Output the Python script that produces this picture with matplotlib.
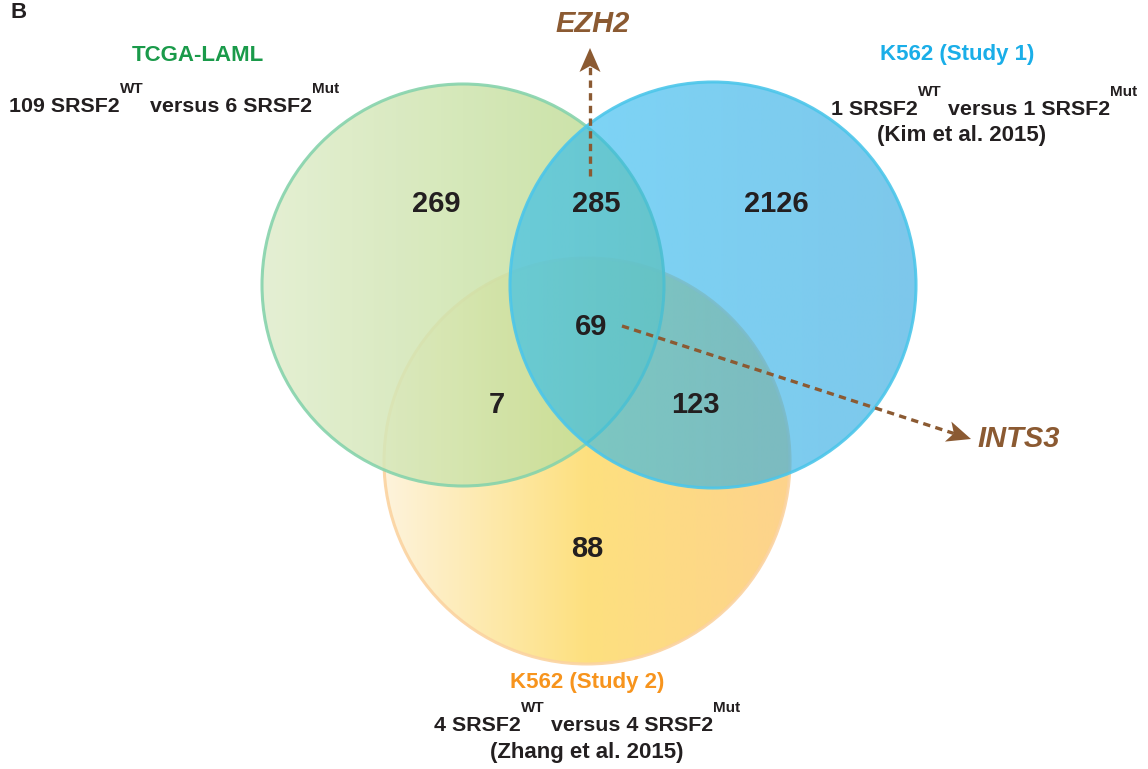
import numpy as np
import matplotlib
matplotlib.use('Agg')
import matplotlib.pyplot as plt
from matplotlib.patches import Circle, Polygon
from matplotlib.colors import LinearSegmentedColormap

plt.rcParams['font.family'] = ['Liberation Sans', 'DejaVu Sans']

# 三个数据集的名称及说明
set_names = ['TCGA-LAML', 'K562 (Study 1)', 'K562 (Study 2)']
set_colors = ['#1a9a4a', '#1aaee8', '#f7941d']
wt_counts = [109, 1, 4]
mut_counts = [6, 1, 4]
refs = ['', '(Kim et al. 2015)', '(Zhang et al. 2015)']

# 各区域基因数: 仅A, A∩B, 仅B, A∩B∩C, A∩C, B∩C, 仅C
region_labels = ['A', 'AB', 'B', 'ABC', 'AC', 'BC', 'C']
region_counts = [269, 285, 2126, 69, 7, 123, 88]

# 标注基因
genes = ['EZH2', 'INTS3']

W, H = 1148, 769
fig = plt.figure(figsize=(W / 100, H / 100), dpi=100, facecolor='white')
ax = fig.add_axes([0, 0, 1, 1])
ax.set_xlim(0, W)
ax.set_ylim(H, 0)
ax.set_aspect('equal')
ax.axis('off')

# 圆的位置 (像素)
circles = {
    'A': (463, 285, 201),
    'B': (713, 285, 203),
    'C': (587, 461, 203),
}

def grad_circle(key, stops, alpha, edge, z):
    cx, cy, r = circles[key]
    cmap = LinearSegmentedColormap.from_list(key, stops)
    grad = np.linspace(0, 1, 256).reshape(1, -1)
    im = ax.imshow(grad, cmap=cmap, extent=(cx - r, cx + r, cy + r, cy - r),
                   alpha=alpha, zorder=z, interpolation='bilinear', aspect='auto')
    clip = Circle((cx, cy), r, transform=ax.transData, facecolor='none', edgecolor='none')
    ax.add_patch(clip)
    im.set_clip_path(clip)
    ax.add_patch(Circle((cx, cy), r, facecolor='none', edgecolor=edge,
                        lw=2.2, alpha=0.9, zorder=z + 0.5))

grad_circle('C', ['#fef3dc', '#fde07f', '#fdd38c'], 1.0, '#fbd3a0', 1)
grad_circle('A', ['#e0edcc', '#bcdb8e'], 0.85, '#86d3ac', 2)
grad_circle('B', ['#26bcf3', '#26a3de'], 0.6, '#4cc6ea', 3)

# 区域数字
num_pos = {
    'A': (436, 204), 'AB': (596, 204), 'B': (776, 204), 'ABC': (591, 327),
    'AC': (497, 405), 'BC': (695, 405), 'C': (587, 549),
}
for lab, n in zip(region_labels, region_counts):
    x, y = num_pos[lab]
    ax.text(x, y, str(n), fontsize=21, fontweight='bold', color='#231f20',
            ha='center', va='center', zorder=10)

renderer = fig.canvas.get_renderer()

def rich_line(cx, y, pieces):
    # pieces: (文本, 字号, 上移像素)
    texts = []
    for s, fs, dy in pieces:
        t = ax.text(0, y - dy, s, fontsize=fs, fontweight='bold', color='#231f20',
                    ha='left', va='baseline', zorder=10)
        texts.append(t)
    widths = [t.get_window_extent(renderer).width for t in texts]
    x = cx - sum(widths) / 2
    for t, w in zip(texts, widths):
        t.set_x(x)
        x += w

def sample_line(cx, y, wt, mut):
    rich_line(cx, y, [(f'{wt} SRSF2', 15.4, 0), ('WT', 11, 19),
                      (f' versus {mut} SRSF2', 15.4, 0), ('Mut', 11, 19)])

ax.text(10, 18, 'B', fontsize=16, fontweight='bold', color='#231f20', va='baseline')

# 左上: TCGA-LAML
ax.text(198, 61, set_names[0], fontsize=16, fontweight='bold', color=set_colors[0],
        ha='center', va='baseline')
sample_line(174, 112, wt_counts[0], mut_counts[0])

# 右上: K562 (Study 1)
ax.text(957, 60, set_names[1], fontsize=16, fontweight='bold', color=set_colors[1],
        ha='center', va='baseline')
sample_line(984, 115, wt_counts[1], mut_counts[1])
ax.text(962, 141, refs[1], fontsize=16, fontweight='bold', color='#231f20',
        ha='center', va='baseline')

# 下方: K562 (Study 2)
ax.text(587, 688, set_names[2], fontsize=16, fontweight='bold', color=set_colors[2],
        ha='center', va='baseline')
sample_line(587, 731, wt_counts[2], mut_counts[2])
ax.text(587, 758, refs[2], fontsize=16, fontweight='bold', color='#231f20',
        ha='center', va='baseline')

# 基因箭头
brown = '#8b5a32'

def dashed_arrow(x0, y0, x1, y1):
    d = np.array([x1 - x0, y1 - y0], float)
    u = d / np.hypot(*d)
    n = np.array([-u[1], u[0]])
    hl, hw = 24, 10.5
    tip = np.array([x1, y1])
    base = tip - u * hl
    notch = tip - u * hl * 0.75
    ax.plot([x0, notch[0]], [y0, notch[1]], color=brown, lw=2.4,
            ls=(0, (2.2, 1.6)), zorder=11)
    head = Polygon([tip, base + n * hw, notch, base - n * hw], closed=True,
                   facecolor=brown, edgecolor='none', zorder=12)
    ax.add_patch(head)

dashed_arrow(590, 176, 590, 48)
ax.text(593, 24, genes[0], fontsize=21, fontweight='bold', style='italic', color=brown,
        ha='center', va='center')

dashed_arrow(622, 326, 971, 439)
ax.text(977, 439, genes[1], fontsize=21, fontweight='bold', style='italic', color=brown,
        ha='left', va='center')

fig.savefig('out.png', dpi=100, facecolor='white')
